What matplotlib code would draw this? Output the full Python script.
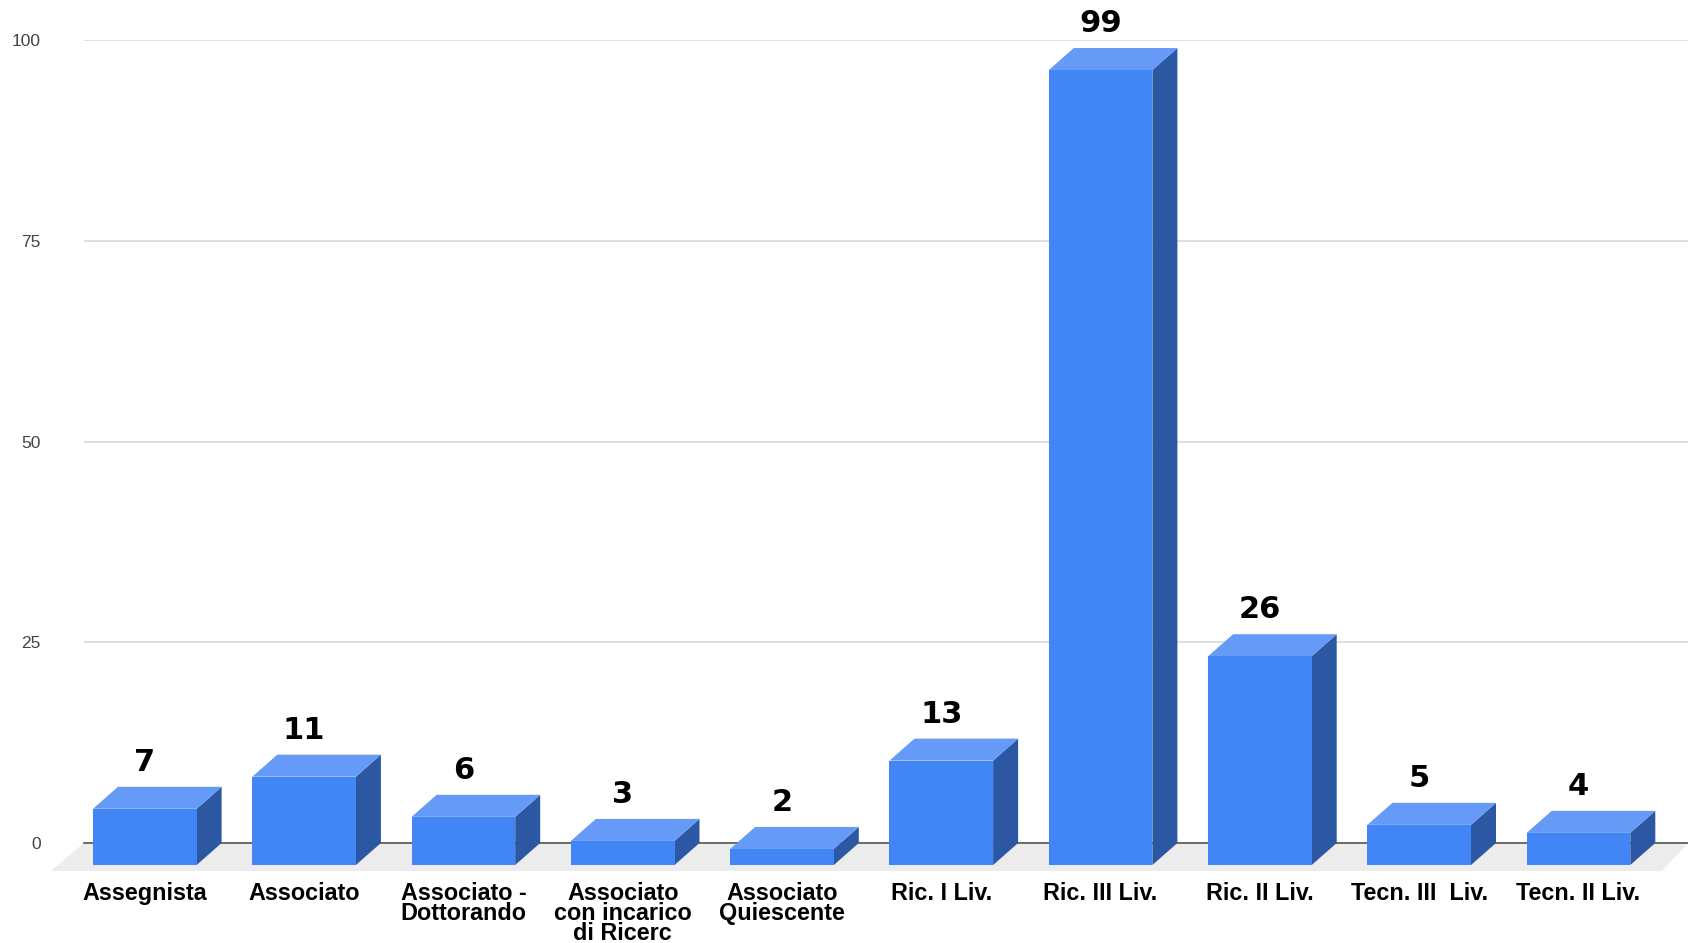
import matplotlib
matplotlib.use('Agg')
import matplotlib.pyplot as plt
from matplotlib.patches import Polygon

categories = ['Assegnista', 'Associato', 'Associato -\nDottorando', 'Associato\ncon incarico\ndi Ricerc',
              'Associato\nQuiescente', 'Ric. I Liv.', 'Ric. III Liv.', 'Ric. II Liv.', 'Tecn. III  Liv.', 'Tecn. II Liv.']
values = [7, 11, 6, 3, 2, 13, 99, 26, 5, 4]
y_ticks = [0, 25, 50, 75, 100]

# pixel layout of the figure
W, H = 1688, 943
step = 159.3
first_center = 144.8
zero_y = 843
top_y = 40
left_x = 84
px_per_unit = (zero_y - top_y) / 100

bar_w = 103.6 / step
depth_x = 25 / step
depth_y = 22 / px_per_unit

fig = plt.figure(figsize=(W / 100, H / 100), dpi=100)
ax = fig.add_axes([left_x / W, 1 - zero_y / H, 1 - left_x / W, (zero_y - top_y) / H])
ax.set_xlim((left_x - first_center) / step, (W - first_center) / step)
ax.set_ylim(0, 100)

for s in ['top', 'right', 'left']:
    ax.spines[s].set_visible(False)
ax.spines['bottom'].set_color('#555555')
ax.spines['bottom'].set_linewidth(1.2)
ax.spines['bottom'].set_zorder(1.5)

ax.set_yticks(y_ticks)
ax.tick_params(axis='y', length=0, pad=31, labelsize=12.5, labelcolor='#444444')
ax.grid(axis='y', color='#d9d9d9', linewidth=1.2)
ax.set_axisbelow(True)
for lab in ax.get_yticklabels():
    lab.set_fontfamily('Liberation Sans')
    lab.set_verticalalignment('center_baseline')

ax.set_xticks(range(len(categories)))
ax.set_xticklabels(categories, fontsize=16.8, fontweight='bold', fontfamily='Liberation Sans',
                   linespacing=0.85, color='black')
ax.tick_params(axis='x', length=0, pad=28)

# floor under the bars
floor_low = -28 / px_per_unit
xmin, xmax = ax.get_xlim()
ax.add_patch(Polygon([(xmin, 0), (xmax, 0), (xmax - 26 / step, floor_low), (xmin - 33 / step, floor_low)],
                     closed=True, facecolor='#ececec', edgecolor='none', clip_on=False, zorder=1))

for i, v in enumerate(values):
    x0 = i - bar_w / 2
    x1 = i + bar_w / 2
    y0 = -depth_y
    y1 = v - depth_y
    front = Polygon([(x0, y0), (x1, y0), (x1, y1), (x0, y1)], facecolor='#4285f4', edgecolor='none')
    top = Polygon([(x0, y1), (x1, y1), (x1 + depth_x, v), (x0 + depth_x, v)], facecolor='#659af6', edgecolor='none')
    side = Polygon([(x1, y0), (x1 + depth_x, 0), (x1 + depth_x, v), (x1, y1)], facecolor='#2b57a3', edgecolor='none')
    for p in [side, top, front]:
        p.set_clip_on(False)
        p.set_zorder(3)
        ax.add_patch(p)
    ax.annotate(str(v), (i, v), xytext=(0, 11.5), textcoords='offset points', ha='center', va='baseline',
                fontsize=22, fontweight='bold', family='DejaVu Sans', color='black', annotation_clip=False)

fig.savefig('out.png', dpi=100)
